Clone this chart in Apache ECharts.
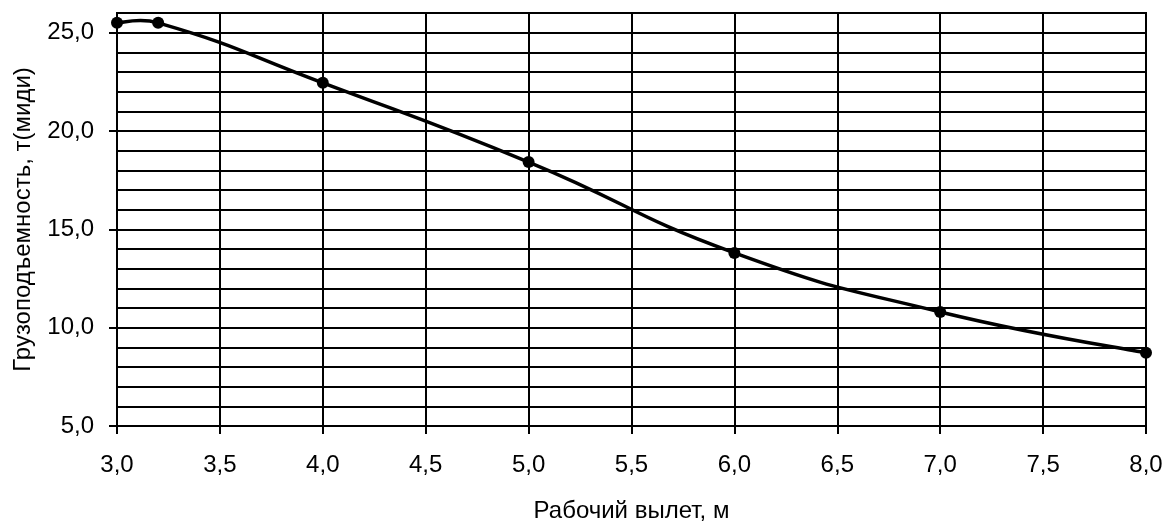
<!DOCTYPE html>
<html><head><meta charset="utf-8">
<script src="https://cdn.jsdelivr.net/npm/echarts@6/dist/echarts.min.js"></script>
<style>html,body{margin:0;padding:0;background:#fff}#c{width:1165px;height:521px}</style>
</head><body><div id="c"></div>
<script>
const xValues = [3.0, 3.2, 4.0, 5.0, 6.0, 7.0, 8.0];
const yValues = [25.5, 25.5, 22.45, 18.42, 13.8, 10.8, 8.72];
const yLabelValues = [5, 10, 15, 20, 25];
const xTitle = 'Рабочий вылет, м';
const yTitle = 'Грузоподъемность, т(миди)';
const fmt = v => Number(v).toFixed(1).replace('.', ',');
const font = 'Liberation Sans, Arial, sans-serif';
const chart = echarts.init(document.getElementById('c'), null, {renderer: 'canvas'});

function smoothPath(pts, s) {
  // Catmull-Rom style bezier with chord-length weighting (no clamping)
  const n = pts.length;
  const d = [];
  for (let i = 0; i < n - 1; i++) d.push(Math.hypot(pts[i + 1][0] - pts[i][0], pts[i + 1][1] - pts[i][1]));
  let p = 'M' + pts[0][0] + ' ' + pts[0][1];
  for (let i = 0; i < n - 1; i++) {
    const a = pts[i], b = pts[i + 1];
    let c1, c2;
    if (i === 0) {
      c1 = [a[0] + (b[0] - a[0]) * s * 0.33, a[1] + (b[1] - a[1]) * s * 0.33];
    } else {
      const pr = pts[i - 1];
      const r = d[i] / (d[i - 1] + d[i]);
      c1 = [a[0] + (b[0] - pr[0]) * s * r, a[1] + (b[1] - pr[1]) * s * r];
    }
    if (i === n - 2) {
      c2 = [b[0] - (b[0] - a[0]) * s * 0.33, b[1] - (b[1] - a[1]) * s * 0.33];
    } else {
      const nx = pts[i + 2];
      const r = d[i] / (d[i] + d[i + 1]);
      c2 = [b[0] - (nx[0] - a[0]) * s * r, b[1] - (nx[1] - a[1]) * s * r];
    }
    p += ' C' + c1[0] + ' ' + c1[1] + ' ' + c2[0] + ' ' + c2[1] + ' ' + b[0] + ' ' + b[1];
  }
  return p;
}

const axisCommon = {
  type: 'value', min: 5, max: 26, interval: 1
};
chart.setOption({
  animation: false,
  backgroundColor: '#fff',
  grid: {left: 117, right: 19, top: 13, bottom: 95, show: true, borderColor: '#000', borderWidth: 2,
         containLabel: false, outerBoundsMode: 'none'},
  xAxis: {
    type: 'value', min: 3, max: 8, interval: 0.5,
    name: xTitle, nameLocation: 'middle', nameGap: 73,
    nameTextStyle: {fontFamily: font, fontSize: 24, color: '#000'},
    axisLine: {show: true, lineStyle: {color: '#000', width: 2}},
    axisTick: {show: true, length: 8, lineStyle: {color: '#000', width: 2}},
    axisLabel: {formatter: fmt, margin: 27, fontFamily: font, fontSize: 24, color: '#000'},
    splitLine: {show: true, lineStyle: {color: '#000', width: 2}}
  },
  yAxis: [Object.assign({}, axisCommon, {
    name: yTitle, nameLocation: 'middle', nameGap: 82,
    nameTextStyle: {fontFamily: font, fontSize: 24, color: '#000'},
    axisLine: {show: true, lineStyle: {color: '#000', width: 2}},
    axisTick: {show: true, length: 8, customValues: yLabelValues, lineStyle: {color: '#000', width: 2}},
    axisLabel: {customValues: yLabelValues, formatter: fmt, margin: 23, fontFamily: font, fontSize: 24, color: '#000'},
    splitLine: {show: false}
  }), Object.assign({}, axisCommon, {
    position: 'left',
    axisLine: {show: false}, axisTick: {show: false}, axisLabel: {show: false},
    splitLine: {show: true, lineStyle: {color: '#000', width: 2}}
  })],
  series: [{
    type: 'custom',
    data: xValues.map((x, i) => [x, yValues[i]]),
    encode: {x: 0, y: 1},
    renderItem: function (params, api) {
      if (params.dataIndex !== 0) return null;
      const pts = xValues.map((x, i) => api.coord([x, yValues[i]]));
      return {
        type: 'path',
        shape: {pathData: smoothPath(pts, 0.5)},
        style: {fill: null, stroke: '#000', lineWidth: 3.5}
      };
    },
    z: 3
  }, {
    type: 'line',
    data: xValues.map((x, i) => [x, yValues[i]]),
    symbol: 'circle', symbolSize: 12,
    itemStyle: {color: '#000'},
    lineStyle: {width: 0, opacity: 0},
    z: 4
  }]
});
</script></body></html>
